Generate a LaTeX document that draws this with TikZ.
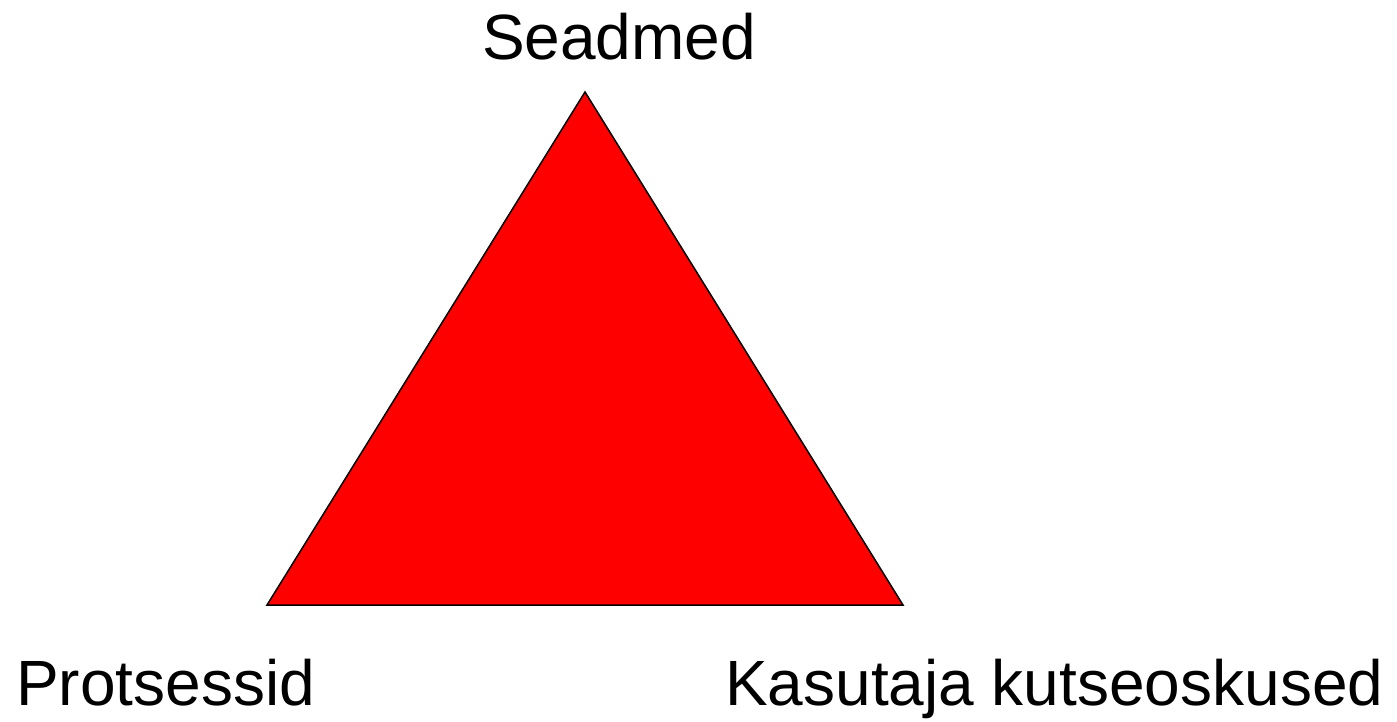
\documentclass[tikz,border=0pt]{standalone}
\usepackage{fontspec}
\setmainfont{Liberation Sans}
\begin{document}
\begin{tikzpicture}[x=1pt,y=-1pt,
  lbl/.style={inner sep=0pt,font=\fontsize{64}{76}\selectfont}]
\useasboundingbox (0,0) rectangle (1397,721);
\coordinate (top) at (585,92);
\coordinate (bl) at (267,605);
\coordinate (br) at (903,605);
\filldraw[fill=red,draw=black,line width=1.5pt,line join=miter] (top) -- (bl) -- (br) -- cycle;
\node[lbl,anchor=base] (s) at (619,59) {Seadmed};
\node[lbl,anchor=base west] (p) at (16,705) {Protsessid};
\node[lbl,anchor=base west] (k) at (725,705) {Kasutaja kutseoskused};
\end{tikzpicture}
\end{document}
